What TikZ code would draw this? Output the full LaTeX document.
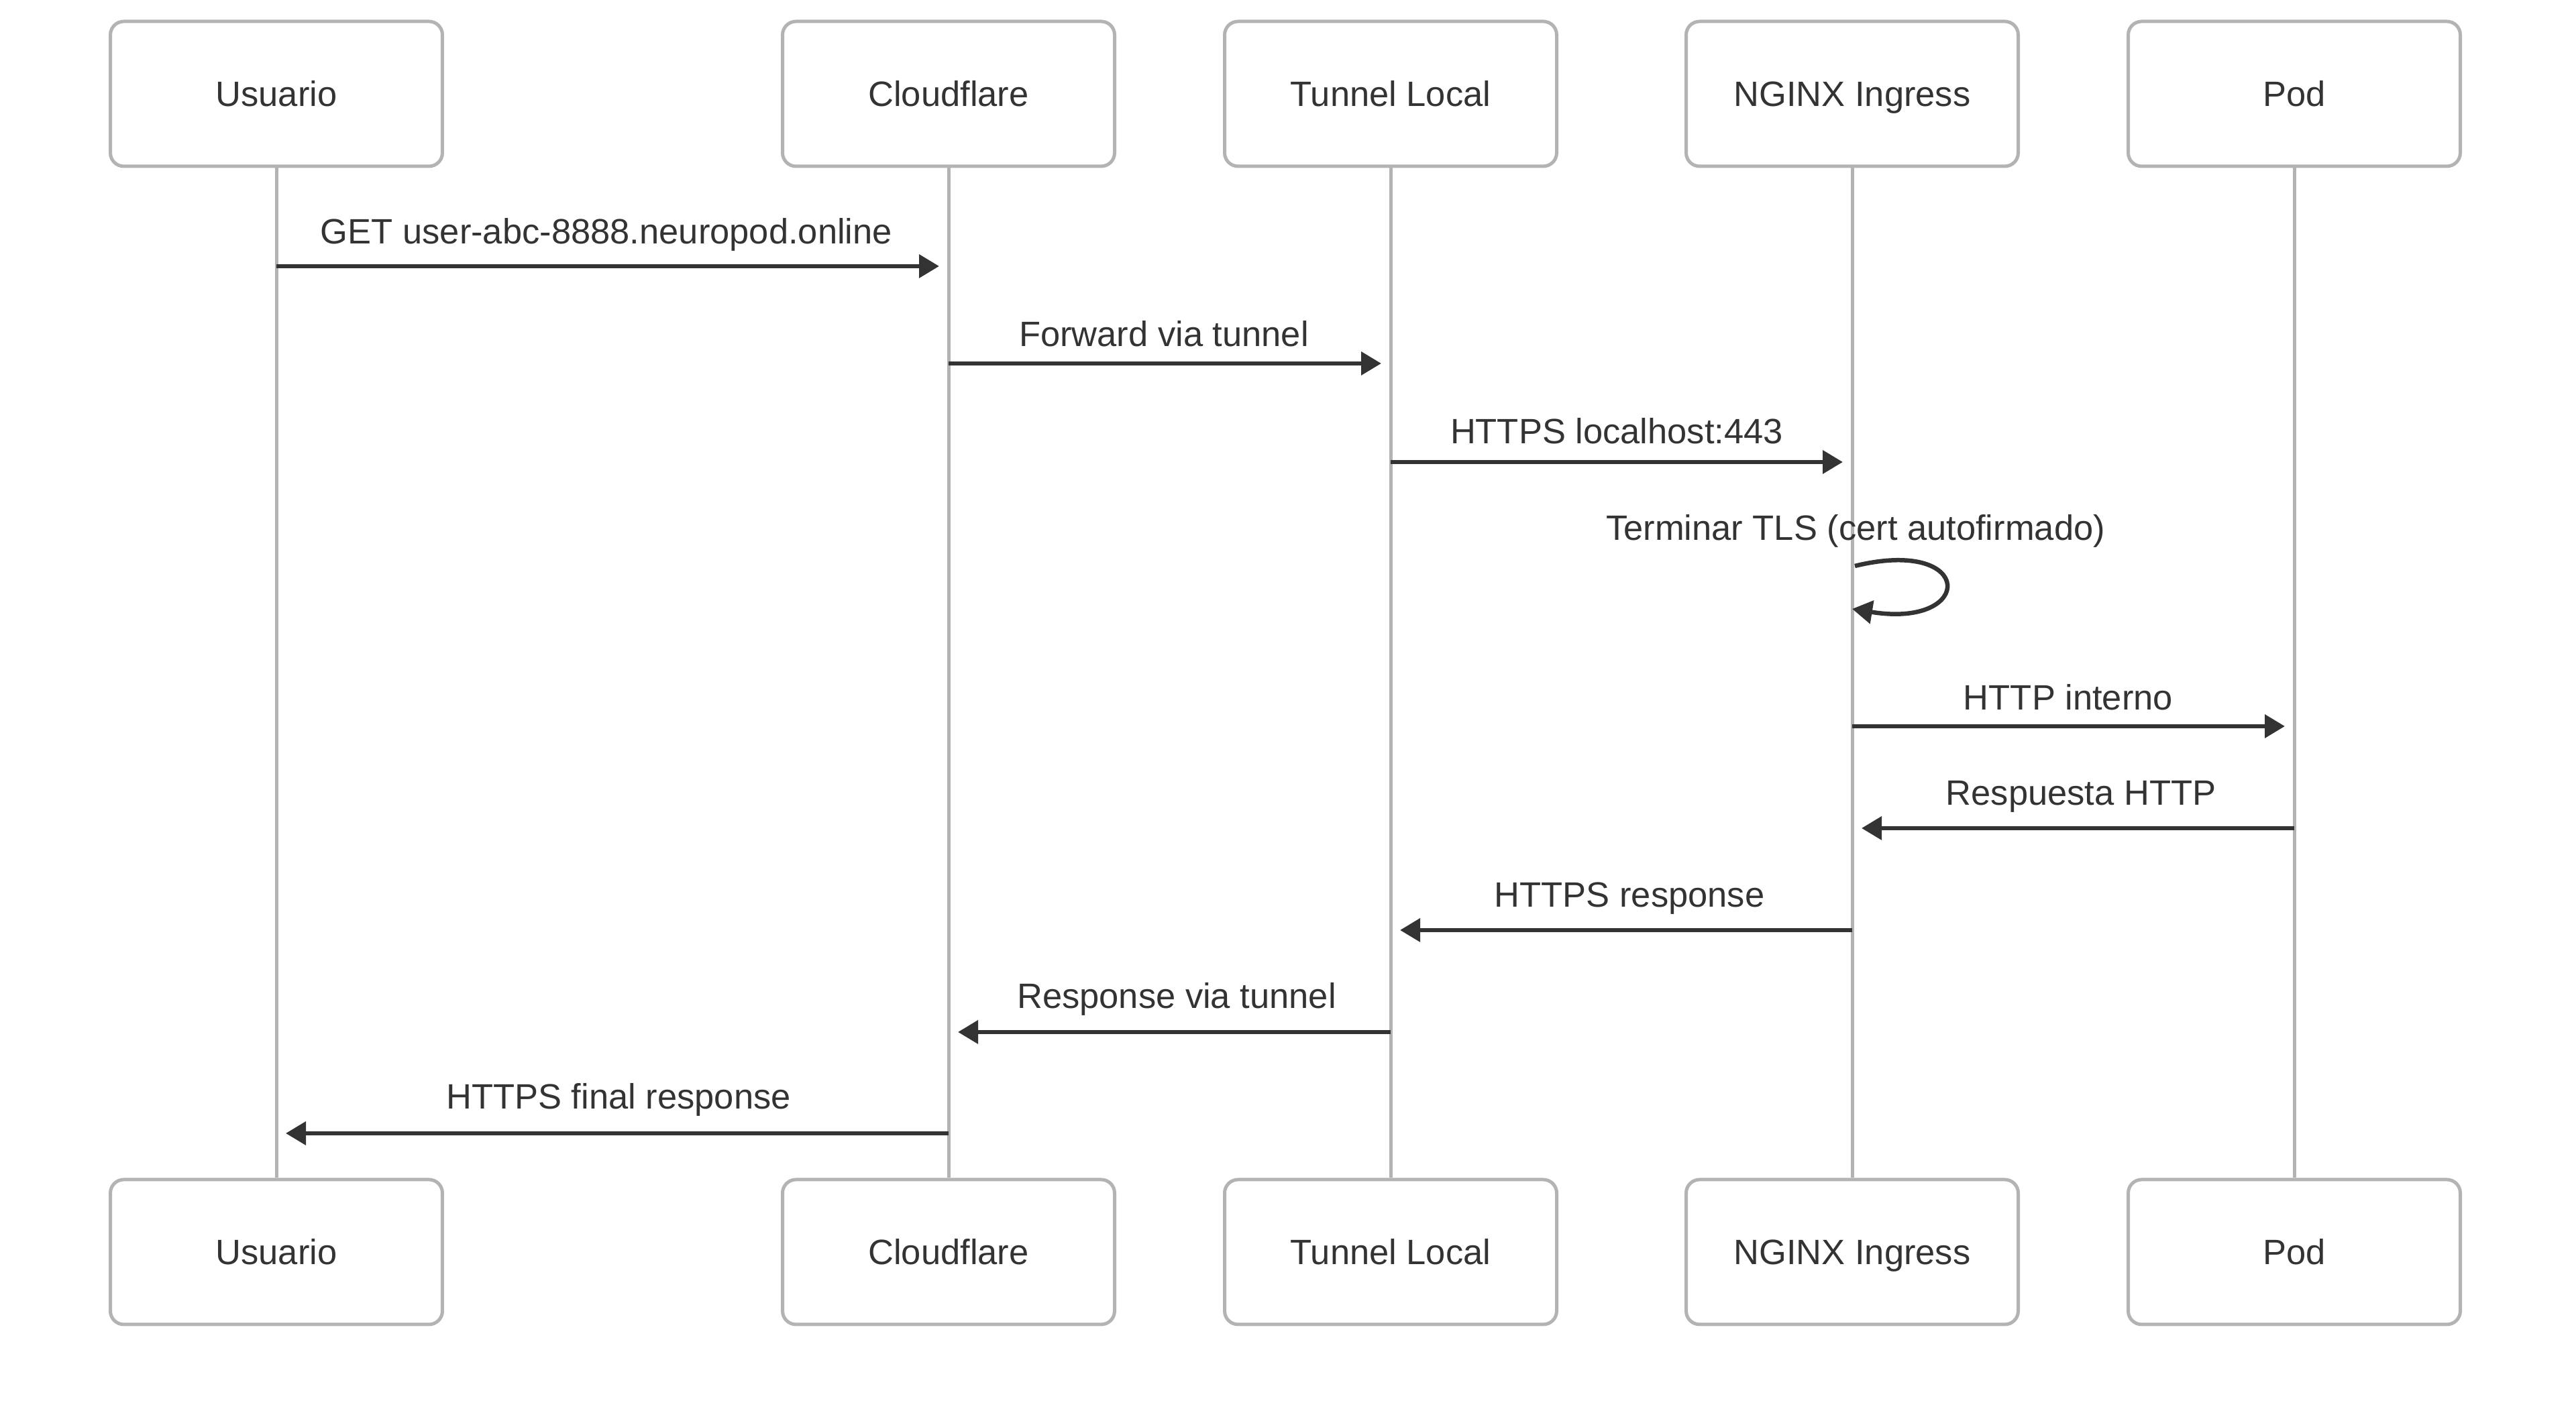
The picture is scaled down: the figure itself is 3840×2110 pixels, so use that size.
\documentclass[tikz,border=0pt]{standalone}
\usepackage{fontspec}
\setmainfont{Liberation Sans}
\usetikzlibrary{arrows.meta}
\definecolor{boxline}{HTML}{B3B3B3}
\definecolor{ink}{HTML}{333333}
\begin{document}
\begin{tikzpicture}[x=0.1pt,y=-0.1pt,
  actor/.style={draw=boxline,line width=0.5pt,fill=white,rounded corners=2pt,
    minimum width=49.5pt,minimum height=21.6pt,inner sep=0pt,text depth=0pt,
    font=\fontsize{5.25}{6.4}\selectfont,text=ink},
  life/.style={draw=boxline,line width=0.5pt},
  msg/.style={draw=ink,line width=0.65pt,-{Triangle[length=3pt,width=3.4pt]},shorten >=1.4pt},
  lbl/.style={font=\fontsize{5.25}{6.4}\selectfont,text=ink,inner sep=0pt}]
\useasboundingbox (0,0) rectangle (3840,2110);
\fill[white] (0,0) rectangle (3840,2110);
% top actors
\node[actor] (ut) at (412,140) {Usuario};
\node[actor] (ct) at (1414,140) {Cloudflare};
\node[actor] (tt) at (2073,140) {Tunnel Local};
\node[actor] (nt) at (2761,140) {NGINX Ingress};
\node[actor] (pt) at (3420,140) {Pod};
% bottom actors
\node[actor] (ub) at (412,1867) {Usuario};
\node[actor] (cb) at (1414,1867) {Cloudflare};
\node[actor] (tb) at (2073,1867) {Tunnel Local};
\node[actor] (nb) at (2761,1867) {NGINX Ingress};
\node[actor] (pb) at (3420,1867) {Pod};
% lifelines
\draw[life] (ut.south) -- (ub.north);
\draw[life] (ct.south) -- (cb.north);
\draw[life] (tt.south) -- (tb.north);
\draw[life] (nt.south) -- (nb.north);
\draw[life] (pt.south) -- (pb.north);
% messages
\draw[msg] (ut |- 0,397) -- (ct |- 0,397);
\node[lbl] (l1) at (904,350) {GET user-abc-8888.neuropod.online};
\draw[msg] (ct |- 0,542) -- (tt |- 0,542);
\node[lbl] (l2) at (1735,498) {Forward via tunnel};
\draw[msg] (tt |- 0,689) -- (nt |- 0,689);
\node[lbl] (l3) at (2410,643) {HTTPS localhost:443};
% self loop
\coordinate (s1) at (2765,844);
\coordinate (s2) at (2761,908);
\draw[msg,shorten >=0pt] (s1) .. controls (2945,800) and (2945,938) .. (s2);
\node[lbl] (l4) at (2766,792) {Terminar TLS (cert autofirmado)};
\draw[msg] (nt |- 0,1083) -- (pt |- 0,1083);
\node[lbl] (l5) at (3083,1040) {HTTP interno};
\draw[msg] (pt |- 0,1235) -- (nt |- 0,1235);
\node[lbl] (l6) at (3102,1188) {Respuesta HTTP};
\draw[msg] (nt |- 0,1387) -- (tt |- 0,1387);
\node[lbl] (l7) at (2429,1340) {HTTPS response};
\draw[msg] (tt |- 0,1539) -- (ct |- 0,1539);
\node[lbl] (l8) at (1754,1490) {Response via tunnel};
\draw[msg] (ct |- 0,1690) -- (ut |- 0,1690);
\node[lbl] (l9) at (922,1640) {HTTPS final response};
\end{tikzpicture}
\end{document}
